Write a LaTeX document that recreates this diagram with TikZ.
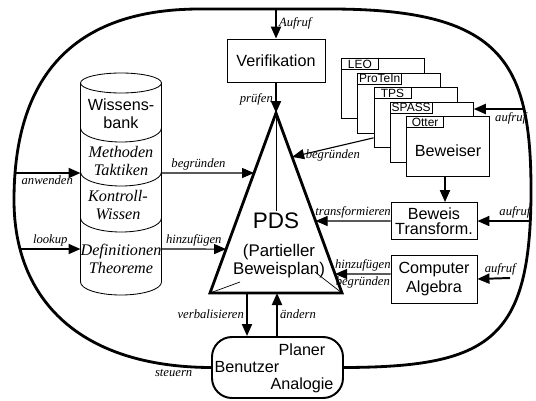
\documentclass[tikz,border=0pt]{standalone}
\usepackage{fontspec}
\setmainfont{Liberation Serif}
\setsansfont{Liberation Sans}
\usetikzlibrary{arrows.meta,calc,positioning}

\begin{document}
\begin{tikzpicture}[x=0.25mm,y=-0.25mm,>={Triangle[length=3mm,width=2.5mm]},
    box/.style={draw,line width=.6pt,fill=white,align=center,inner sep=1pt,
      font=\sffamily\fontsize{11.5}{13}\selectfont},
    prover/.style={draw,line width=.6pt,fill=white,anchor=north west,
      minimum width=20.75mm,minimum height=15mm},
    tab/.style={draw,line width=.6pt,anchor=north west,minimum width=9.25mm,
      minimum height=2.6mm,inner sep=1pt,font=\sffamily\fontsize{8.5}{9}\selectfont},
    kb/.style={align=center,inner sep=1pt,font=\itshape\fontsize{11.5}{13}\selectfont},
    lbl/.style={inner sep=1.5pt,font=\itshape\fontsize{9}{10}\selectfont},
    flow/.style={->,line width=.8pt},
    call/.style={->,line width=1.4pt}]
  \useasboundingbox (0,0) rectangle (536,400);
  \coordinate (A) at (276,113);
  \coordinate (B) at (210,293);
  \coordinate (C) at (342,293);
  \coordinate (rim) at (531,0);

  % Wissensbank
  \draw[line width=.6pt] (80.5,83) -- (80.5,282) arc[start angle=180,end angle=0,x radius=40.5,y radius=13] -- (161.5,83);
  \draw[line width=.6pt] (121,83) ellipse[x radius=40.5,y radius=10];
  \foreach \y in {128,172,218}
    \draw[line width=.6pt] (80.5,\y) arc[start angle=180,end angle=0,x radius=40.5,y radius=14];
  \node[kb,font=\sffamily\fontsize{11.5}{13}\selectfont] (wb) at (121,114) {Wissens-\\bank};
  \node[kb] (mt) at (121,161) {Methoden\\Taktiken};
  \node[kb] (kw) at (118,205) {Kontroll-\\Wissen};
  \node[kb] (dt) at (121,259) {Definitionen\\Theoreme};

  % Beweiser
  \foreach \name [count=\i from 0] in {LEO,ProTeIn,TPS,SPASS,Otter}{
    \node[prover] (p\i) at (341+16.3*\i,58+14.5*\i) {};
    \node[tab] at (p\i.north west) {\name};
  }
  \node[box,draw=none,fill=none] (bew) at ($(p4.center)+(0,4)$) {Beweiser};

  \node[box,minimum width=24.5mm,minimum height=10.75mm] (verif) at (276,60.5) {Verifikation};
  \node[box,minimum width=21.5mm,minimum height=9.25mm,font=\sffamily\fontsize{11.5}{11}\selectfont] (bt) at (434,221) {Beweis\\Transform.};
  \node[box,minimum width=21.5mm,minimum height=12mm] (ca) at (434,279) {Computer\\Algebra};
  \node[draw,fill=white,line width=1.4pt,rounded corners=5mm,minimum width=32.75mm,minimum height=15.25mm] (ui) at (277.5,367.5) {};
  \node[box,draw=none,fill=none] (planer) at (302,350) {Planer};
  \node[box,draw=none,fill=none] (benutzer) at (247,367) {Benutzer};
  \node[box,draw=none,fill=none] (analogie) at (302,385) {Analogie};

  % PDS
  \node[inner sep=1pt,font=\sffamily\fontsize{16}{18}\selectfont] (pds) at (276,221) {PDS};
  \node[align=center,inner sep=1pt,font=\sffamily\fontsize{12}{12.8}\selectfont] (pb) at (279,261) {(Partieller\\Beweisplan)};
  \draw[line width=.5pt] (A) -- (pds.north);
  \draw[line width=.5pt] (B) -- (240,282);
  \draw[line width=.5pt] (C) -- (315,272);
  \draw[line width=2pt] (A) -- (B) -- (C) -- cycle;

  \draw[line width=2pt] (ui.west) .. controls (80,367) and (14,300) .. node[lbl,below,pos=0.1] {steuern} (14,200)
    .. controls (14,80) and (70,9) .. (200,9) -- (330,9) .. controls (500,9) and (531,60) .. (531,190)
    .. controls (531,340) and (490,367) .. (ui.east);

  \draw[call] (276,9) -- node[lbl,right] {Aufruf} (verif);
  \draw[call] (verif) -- node[lbl,left,pos=0.55] {prüfen} (A);
  \draw[call] (14,173) -- node[lbl,below] {anwenden} (80.5,173);
  \draw[call] (20,249) -- node[lbl,above] {lookup} (80.5,249);
  \draw[flow] (161.5,173) -- node[lbl,above,pos=0.4] {begründen} ($(A)!1/3!(B)$);
  \draw[flow] (161.5,249) -- node[lbl,above] {hinzufügen} ($(A)!0.756!(B)$);

  \draw[call] (523,109) -- node[lbl,below,pos=0.25] {aufruf} ($(p3.north east)+(0,7.5)$);
  \draw[flow] ($(p2.south west)+(0,-10)$) -- node[lbl,below] {begründen} ($(A)!0.244!(C)$);
  \coordinate (bx) at ($(bt.north)+(11,0)$);
  \draw[call] (p4.south -| bx) -- (bx);
  \draw[flow] (bt.west) -- node[lbl,above] {transformieren} ($(A)!0.6!(C)$);
  \draw[call] (bt.east -| rim) -- node[lbl,above,pos=0.3] {aufruf} (bt.east);
  \draw[flow] ($(ca.west)+(0,-5)$) -- node[lbl,above] {hinzufügen} node[lbl,below] {begründen} ($(A)!0.8944!(C)$);
  \draw[call] (510,278) -- node[lbl,above,pos=0.3] {aufruf} (ca.east);

  \coordinate (vb) at (247,293);
  \coordinate (ae) at (277,293);
  \draw[call] (vb) -- node[lbl,left] {verbalisieren} (vb |- ui.north);
  \draw[call] (ae |- ui.north) -- node[lbl,right] {ändern} (ae);
\end{tikzpicture}
\end{document}
